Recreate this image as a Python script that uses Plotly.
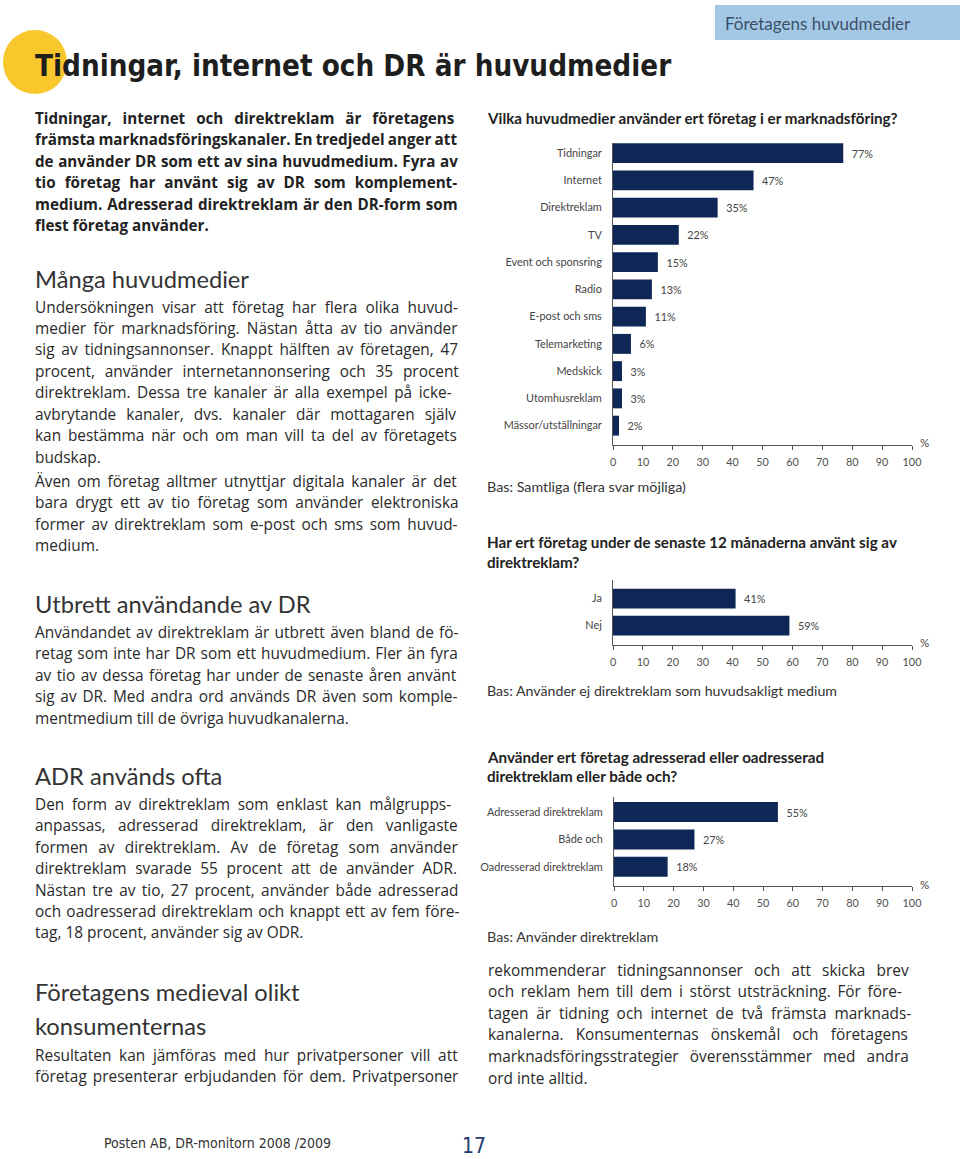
import plotly.graph_objects as go

W, H = 960, 1159

# ---------------- data ----------------
media_categories = ["Tidningar", "Internet", "Direktreklam", "TV", "Event och sponsring",
                    "Radio", "E-post och sms", "Telemarketing", "Medskick",
                    "Utomhusreklam", "Mässor/utställningar"]
media_values = [77, 47, 35, 22, 15, 13, 11, 6, 3, 3, 2]

dr_categories = ["Ja", "Nej"]
dr_values = [41, 59]

adr_categories = ["Adresserad direktreklam", "Både och", "Oadresserad direktreklam"]
adr_values = [55, 27, 18]

x_tick_values = [0, 10, 20, 30, 40, 50, 60, 70, 80, 90, 100]
x_tick_labels = [str(v) for v in x_tick_values]

# ---------------- style ----------------
NAVY = "#0e2756"
AX = "#555555"
LBL = "#444444"
TXT = "#2a2a2a"
BODY_FONT = "'Open Sans', Lato, sans-serif"
LATO = "Lato, 'Open Sans', sans-serif"
COND_FONT = "'DejaVu Sans Condensed', 'Liberation Sans Narrow', Lato, sans-serif"


def px_x(x):
    return x / W


def px_y(y):
    return 1 - y / H


fig = go.Figure()

charts = [
    (media_categories, media_values, "x", "y"),
    (dr_categories, dr_values, "x2", "y2"),
    (adr_categories, adr_values, "x3", "y3"),
]
for cats, vals, xa, ya in charts:
    fig.add_trace(go.Bar(
        x=vals, y=cats, orientation="h", xaxis=xa, yaxis=ya,
        marker=dict(color=NAVY, line=dict(width=0)),
        text=[f"{v}%" for v in vals],
        texttemplate="\u00a0\u00a0%{text}",
        textposition="outside", cliponaxis=False,
        textfont=dict(family=LATO, size=10.8, color=LBL),
        hoverinfo="skip", showlegend=False,
    ))

# plot areas (pixel geometry)
areas = {
    1: dict(x0=613, x1=912, top=143, bottom=445, rng=[10.71, -0.37], cats=media_categories),
    2: dict(x0=613, x1=912, top=580, bottom=645, rng=[1.72, -0.69], cats=dr_categories),
    3: dict(x0=614, x1=912, top=797, bottom=886, rng=[2.70, -0.55], cats=adr_categories),
}

layout_axes = {}
for i, a in areas.items():
    sx = "" if i == 1 else str(i)
    xdom = [px_x(a["x0"]), px_x(a["x1"])]
    ydom = [px_y(a["bottom"]), px_y(a["top"])]
    layout_axes["xaxis" + sx] = dict(
        domain=xdom, anchor="y" + sx, range=[0, 100],
        tickmode="array", tickvals=x_tick_values, ticktext=x_tick_labels,
        ticks="outside", ticklen=4, tickwidth=1, tickcolor=AX,
        showline=True, linecolor=AX, linewidth=1,
        showgrid=False, zeroline=False, fixedrange=True, automargin=False,
        tickfont=dict(family=LATO, size=10.8, color="#505050"),
        ticklabelstandoff=3,
    )
    layout_axes["yaxis" + sx] = dict(
        domain=ydom, anchor="x" + sx, type="category",
        categoryorder="array", categoryarray=a["cats"], range=a["rng"],
        showline=True, linecolor=AX, linewidth=1, ticks="",
        showgrid=False, zeroline=False, fixedrange=True, automargin=False,
        tickfont=dict(family=LATO, size=10.9, color=LBL),
        ticklabelstandoff=8,
    )
    # overlay axis drawing the upper half of the crossing tick marks
    layout_axes["xaxis" + str(i + 3)] = dict(
        overlaying="x" + sx, anchor="y" + sx, range=[0, 100],
        tickmode="array", tickvals=x_tick_values,
        ticks="inside", ticklen=4, tickwidth=1, tickcolor=AX,
        showticklabels=False, showline=False, showgrid=False,
        zeroline=False, fixedrange=True, automargin=False,
    )

annotations = []


def txt(x, y, text, size, color=TXT, family=BODY_FONT, anchor="left", yanchor="middle"):
    annotations.append(dict(
        x=px_x(x), y=px_y(y), xref="paper", yref="paper", text=text,
        showarrow=False, xanchor=anchor, yanchor=yanchor, align="left",
        font=dict(family=family, size=size, color=color),
    ))


def lines(x, y0, step, rows, size, color=TXT, family=BODY_FONT, bold=False):
    """rows: (text, extra word spacing in px to imitate justified text)"""
    for k, (r, ws) in enumerate(rows):
        t = f'<span style="word-spacing:{ws}px">{r}</span>' if ws else r
        if bold:
            t = f"<b>{t}</b>"
        txt(x, y0 + k * step, t, size, color, family)


# "%" unit after each x axis
for i in (1, 2, 3):
    sx = "" if i == 1 else str(i)
    annotations.append(dict(
        x=100, y=0, xref="x" + sx, yref=f"y{sx} domain", text="%",
        showarrow=False, xanchor="left", yanchor="middle", xshift=6, yshift=2,
        font=dict(family=LATO, size=11.5, color=LBL),
    ))

# page title & tab
txt(33, 66, "<b>Tidningar, internet och DR är huvudmedier</b>", 29.3, "#1e1e1e", COND_FONT)
txt(723, 23, "Företagens huvudmedier", 17, "#3b5068", LATO)

# left column
lines(33, 118, 21.4, [
    ("Tidningar, internet och direktreklam är företagens", 7.0),
    ("främsta marknadsföringskanaler. En tredjedel anger att", -0.7),
    ("de använder DR som ett av sina huvudmedium. Fyra av", 0.6),
    ("tio företag har använt sig av DR som komplement-", 5.1),
    ("medium. Adresserad direktreklam är den DR-form som", 1.0),
    ("flest företag använder.", 0),
], 15.2, "#222222", BODY_FONT, bold=True)

txt(33, 279, "Många huvudmedier", 23.7, "#333333", LATO)
lines(33, 307, 21.43, [
    ("Undersökningen visar att företag har flera olika huvud-", 4.3),
    ("medier för marknadsföring. Nästan åtta av tio använder", 3.2),
    ("sig av tidningsannonser. Knappt hälften av företagen, 47", 2.8),
    ("procent, använder internetannonsering och 35 procent", 5.8),
    ("direktreklam. Dessa tre kanaler är alla exempel på icke-", 2.5),
    ("avbrytande kanaler, dvs. kanaler där mottagaren själv", 6.1),
    ("kan bestämma när och om man vill ta del av företagets", 2.85),
    ("budskap.", 0),
], 15.4)
lines(33, 481, 21.5, [
    ("Även om företag alltmer utnyttjar digitala kanaler är det", 2.8),
    ("bara drygt ett av tio företag som använder elektroniska", 3.6),
    ("former av direktreklam som e-post och sms som huvud-", 2.6),
    ("medium.", 0),
], 15.4)

txt(33, 604, "Utbrett användande av DR", 23.7, "#333333", LATO)
lines(33, 632, 21.5, [
    ("Användandet av direktreklam är utbrett även bland de fö-", 1.3),
    ("retag som inte har DR som ett huvudmedium. Fler än fyra", 1.0),
    ("av tio av dessa företag har under de senaste åren använt", 1.4),
    ("sig av DR. Med andra ord används DR även som komple-", 1.8),
    ("mentmedium till de övriga huvudkanalerna.", 0),
], 15.4)

txt(33, 776, "ADR används ofta", 23.7, "#333333", LATO)
lines(33, 804, 21.5, [
    ("Den form av direktreklam som enklast kan målgrupps-", 3.7),
    ("anpassas, adresserad direktreklam, är den vanligaste", 8.4),
    ("formen av direktreklam. Av de företag som använder", 6.25),
    ("direktreklam svarade 55 procent att de använder ADR.", 4.65),
    ("Nästan tre av tio, 27 procent, använder både adresserad", 2.4),
    ("och oadresserad direktreklam och knappt ett av fem före-", 1.3),
    ("tag, 18 procent, använder sig av ODR.", 0),
], 15.4)

txt(33, 992, "Företagens medieval olikt", 23.7, "#333333", LATO)
txt(33, 1026, "konsumenternas", 23.7, "#333333", LATO)
lines(33, 1055, 21.5, [
    ("Resultaten kan jämföras med hur privatpersoner vill att", 3.7),
    ("företag presenterar erbjudanden för dem. Privatpersoner", 2.1),
], 15.4)

# right column
txt(485, 118, "<b>Vilka huvudmedier använder ert företag i er marknadsföring?</b>", 15.2, "#222222", LATO)
txt(485, 486, "Bas: Samtliga (flera svar möjliga)", 14.3, "#333333", LATO)
txt(485, 542, "<b>Har ert företag under de senaste 12 månaderna använt sig av</b>", 15.2, "#222222", LATO)
txt(485, 562, "<b>direktreklam?</b>", 15.2, "#222222", LATO)
txt(485, 690, "Bas: Använder ej direktreklam som huvudsakligt medium", 14.2, "#333333", LATO)
txt(485, 757, "<b>Använder ert företag adresserad eller oadresserad</b>", 15.2, "#222222", LATO)
txt(485, 776, "<b>direktreklam eller både och?</b>", 15.2, "#222222", LATO)
txt(485, 937, "Bas: Använder direktreklam", 14.3, "#333333", LATO)

lines(486, 970, 21.6, [
    ("rekommenderar tidningsannonser och att skicka brev", 7.2),
    ("och reklam hem till dem i störst utsträckning. För före-", 2.7),
    ("tagen är tidning och internet de två främsta marknads-", 3.8),
    ("kanalerna. Konsumenternas önskemål och företagens", 8.2),
    ("marknadsföringsstrategier överensstämmer med andra", 7.2),
    ("ord inte alltid.", 0),
], 15.4)

# footer
txt(102, 1143, "Posten AB, DR-monitorn 2008 /2009", 14, "#333333", COND_FONT)
txt(460, 1146, "17", 21, "#1d3c6c", COND_FONT)

shapes = [
    dict(type="circle", xref="paper", yref="paper",
         x0=px_x(3), x1=px_x(67), y0=px_y(94), y1=px_y(30),
         fillcolor="#f8c72c", line=dict(width=0), layer="below"),
    dict(type="rect", xref="paper", yref="paper",
         x0=px_x(715), x1=1, y0=px_y(40), y1=px_y(5),
         fillcolor="#a3c8e6", line=dict(width=0), layer="below"),
]

fig.update_layout(
    width=W, height=H,
    margin=dict(l=0, r=0, t=0, b=0, autoexpand=False),
    paper_bgcolor="white", plot_bgcolor="white",
    bargap=0.27, showlegend=False,
    annotations=annotations, shapes=shapes,
    **layout_axes,
)

fig.write_html(
    "out.html",
    config={"displayModeBar": False},
    post_script="document.body.style.margin='0';document.body.style.overflow='hidden';",
)
